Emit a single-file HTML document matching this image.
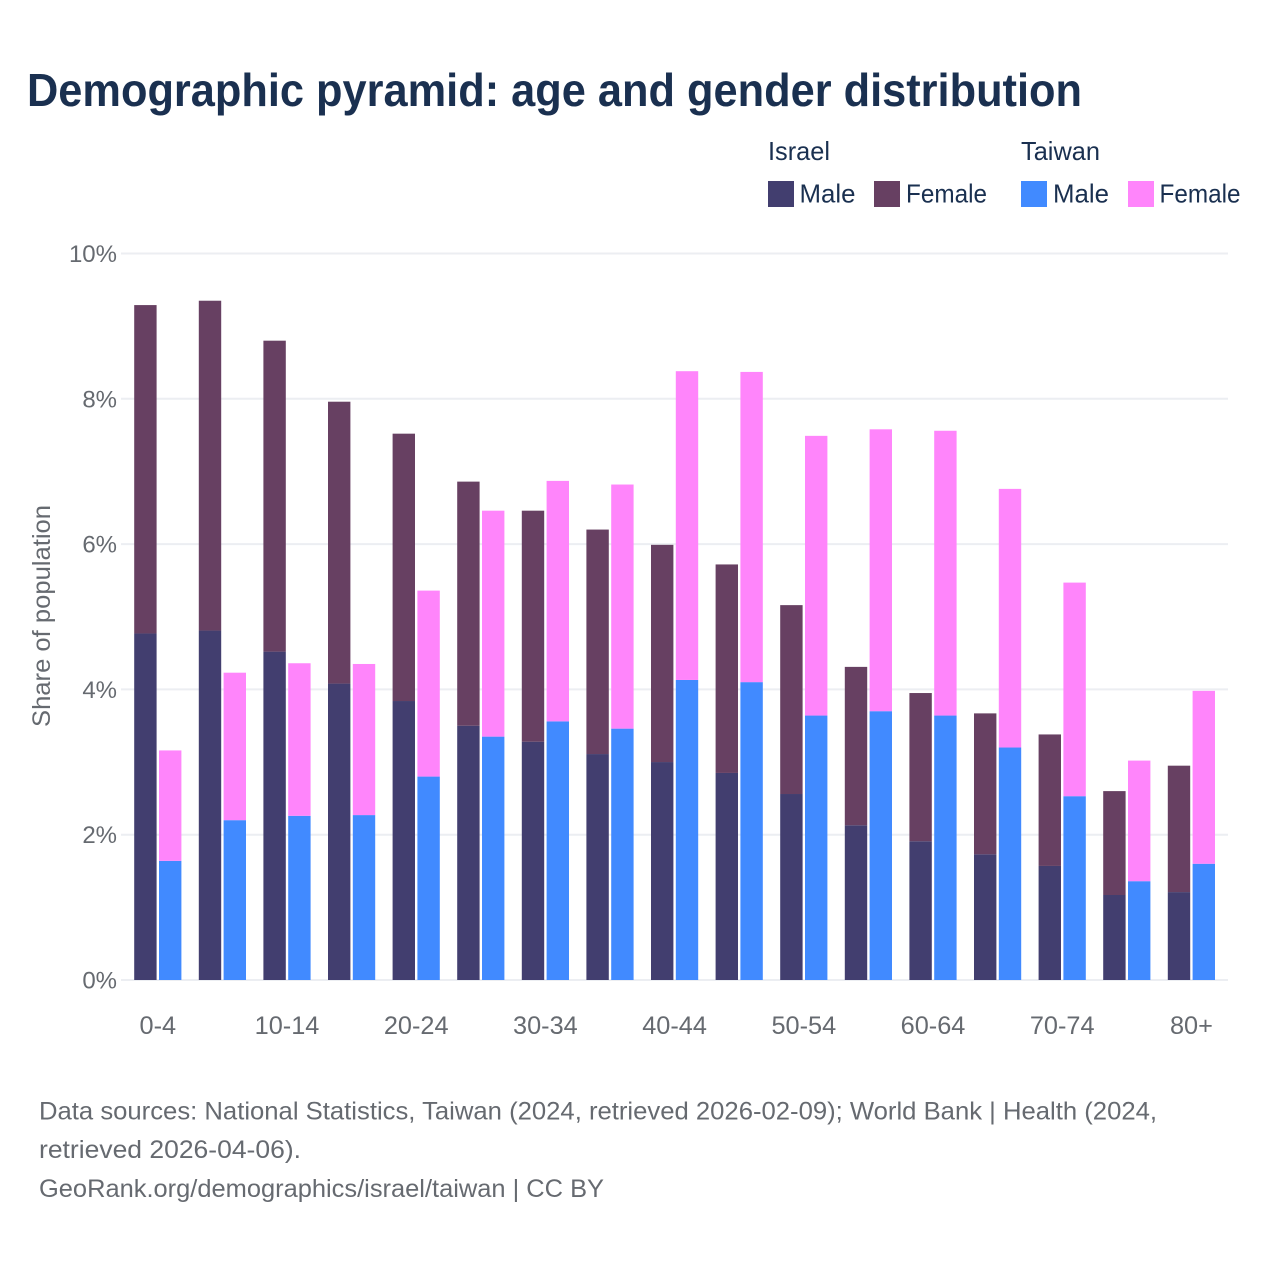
<!DOCTYPE html>
<html lang="en">
<head>
<meta charset="utf-8">
<title>Demographic pyramid: age and gender distribution</title>
<style>
html,body{margin:0;padding:0;background:#fff;}
svg{display:block;font-family:"Liberation Sans",sans-serif;}
.legend-text{font-size:26px;fill:#1a3050;}
.foot{font-size:25px;fill:#666a70;}
</style>
</head>
<body>
<svg id="chart" xmlns="http://www.w3.org/2000/svg" width="1280" height="1280" viewBox="0 0 1280 1280">
<rect x="0" y="0" width="1280" height="1280" fill="#ffffff"/>
<text x="27" y="106" font-size="46" font-weight="700" fill="#1a3050" textLength="1055" lengthAdjust="spacingAndGlyphs">Demographic pyramid: age and gender distribution</text>

<g>
<text class="legend-text" x="768" y="160" textLength="62" lengthAdjust="spacingAndGlyphs">Israel</text>
<text class="legend-text" x="1021" y="160" textLength="79" lengthAdjust="spacingAndGlyphs">Taiwan</text>
<rect x="768" y="181" width="26" height="26" fill="#423e6f"/>
<text class="legend-text" x="799.500" y="202.500" textLength="56" lengthAdjust="spacingAndGlyphs">Male</text>
<rect x="874" y="181" width="26" height="26" fill="#674062"/>
<text class="legend-text" x="906" y="202.500" textLength="81" lengthAdjust="spacingAndGlyphs">Female</text>
<rect x="1021" y="181" width="26" height="26" fill="#418aff"/>
<text class="legend-text" x="1053" y="202.500" textLength="56" lengthAdjust="spacingAndGlyphs">Male</text>
<rect x="1128" y="181" width="26" height="26" fill="#ff85fb"/>
<text class="legend-text" x="1159.500" y="202.500" textLength="81" lengthAdjust="spacingAndGlyphs">Female</text>
</g>

<g id="grid"></g>
<g id="y-ticks"></g>
<g id="x-ticks"></g>
<g id="bars"></g>

<text transform="translate(50 616) rotate(-90)" text-anchor="middle" font-size="25" fill="#666a70" textLength="222" lengthAdjust="spacingAndGlyphs">Share of population</text>

<g>
<text class="foot" x="39" y="1119.500" textLength="1118" lengthAdjust="spacingAndGlyphs">Data sources: National Statistics, Taiwan (2024, retrieved 2026-02-09); World Bank | Health (2024,</text>
<text class="foot" x="39" y="1158" textLength="262" lengthAdjust="spacingAndGlyphs">retrieved 2026-04-06).</text>
<text class="foot" x="39" y="1197" textLength="565" lengthAdjust="spacingAndGlyphs">GeoRank.org/demographics/israel/taiwan | CC BY</text>
</g>
</svg>
<script>
const ageGroups = ["0-4","5-9","10-14","15-19","20-24","25-29","30-34","35-39","40-44","45-49","50-54","55-59","60-64","65-69","70-74","75-79","80+"];
const israelMale = [4.77,4.81,4.52,4.08,3.84,3.50,3.28,3.11,3.00,2.85,2.56,2.13,1.91,1.73,1.57,1.17,1.21];
const israelFemale = [4.52,4.54,4.28,3.88,3.68,3.36,3.18,3.09,2.99,2.87,2.60,2.18,2.04,1.94,1.81,1.43,1.74];
const taiwanMale = [1.64,2.20,2.26,2.27,2.80,3.35,3.56,3.46,4.13,4.10,3.64,3.70,3.64,3.20,2.53,1.36,1.60];
const taiwanFemale = [1.52,2.03,2.10,2.08,2.56,3.11,3.31,3.36,4.25,4.27,3.85,3.88,3.92,3.56,2.94,1.66,2.38];
const yTickValues = [0,2,4,6,8,10];

const SVGNS = "http://www.w3.org/2000/svg";
const COLORS = {israelMale:"#423e6f", israelFemale:"#674062", taiwanMale:"#418aff", taiwanFemale:"#ff85fb"};
function yScale(v){ return 980 - 72.65 * v; }
function xCenter(i){ return 157.8 + 64.6 * i; }
const BAR_W = 22.4, BAR_GAP = 1.2;

function makeRect(x, y, w, h, fill){
  const r = document.createElementNS(SVGNS, "rect");
  r.setAttribute("x", x);
  r.setAttribute("y", y);
  r.setAttribute("width", w);
  r.setAttribute("height", h);
  r.setAttribute("fill", fill);
  return r;
}

const grid = document.getElementById("grid");
const yTicks = document.getElementById("y-ticks");
yTickValues.forEach(function(v){
  const line = document.createElementNS(SVGNS, "line");
  line.setAttribute("x1", 121);
  line.setAttribute("x2", 1228);
  line.setAttribute("y1", yScale(v));
  line.setAttribute("y2", yScale(v));
  line.setAttribute("stroke", "#eceef2");
  line.setAttribute("stroke-width", "2");
  
  
  grid.appendChild(line);
  const t = document.createElementNS(SVGNS, "text");
  t.setAttribute("x", 117);
  t.setAttribute("y", yScale(v) + 8.5);
  t.setAttribute("text-anchor", "end");
  t.setAttribute("font-size", "24");
  t.setAttribute("fill", "#666a70");
  t.textContent = v + "%";
  
  
  yTicks.appendChild(t);
});

const xTicks = document.getElementById("x-ticks");
const bars = document.getElementById("bars");
ageGroups.forEach(function(label, i){
  if (i % 2 === 0) {
    const t = document.createElementNS(SVGNS, "text");
    t.setAttribute("x", xCenter(i));
    t.setAttribute("y", 1034);
    t.setAttribute("text-anchor", "middle");
    t.setAttribute("font-size", "25.300");
    t.setAttribute("fill", "#666a70");
    t.textContent = label;
    
    
    xTicks.appendChild(t);
  }
  const xI = xCenter(i) - BAR_GAP - BAR_W;
  const xT = xCenter(i) + BAR_GAP;

  const im = makeRect(xI, yScale(israelMale[i]), BAR_W, yScale(0) - yScale(israelMale[i]), COLORS.israelMale);
  
  
  bars.appendChild(im);

  const ifTop = israelMale[i] + israelFemale[i];
  const fi = makeRect(xI, yScale(ifTop), BAR_W, yScale(israelMale[i]) - yScale(ifTop), COLORS.israelFemale);
  
  
  bars.appendChild(fi);

  const tm = makeRect(xT, yScale(taiwanMale[i]), BAR_W, yScale(0) - yScale(taiwanMale[i]), COLORS.taiwanMale);
  
  
  bars.appendChild(tm);

  const tfTop = taiwanMale[i] + taiwanFemale[i];
  const tf = makeRect(xT, yScale(tfTop), BAR_W, yScale(taiwanMale[i]) - yScale(tfTop), COLORS.taiwanFemale);
  
  
  bars.appendChild(tf);
});
</script>
</body>
</html>
